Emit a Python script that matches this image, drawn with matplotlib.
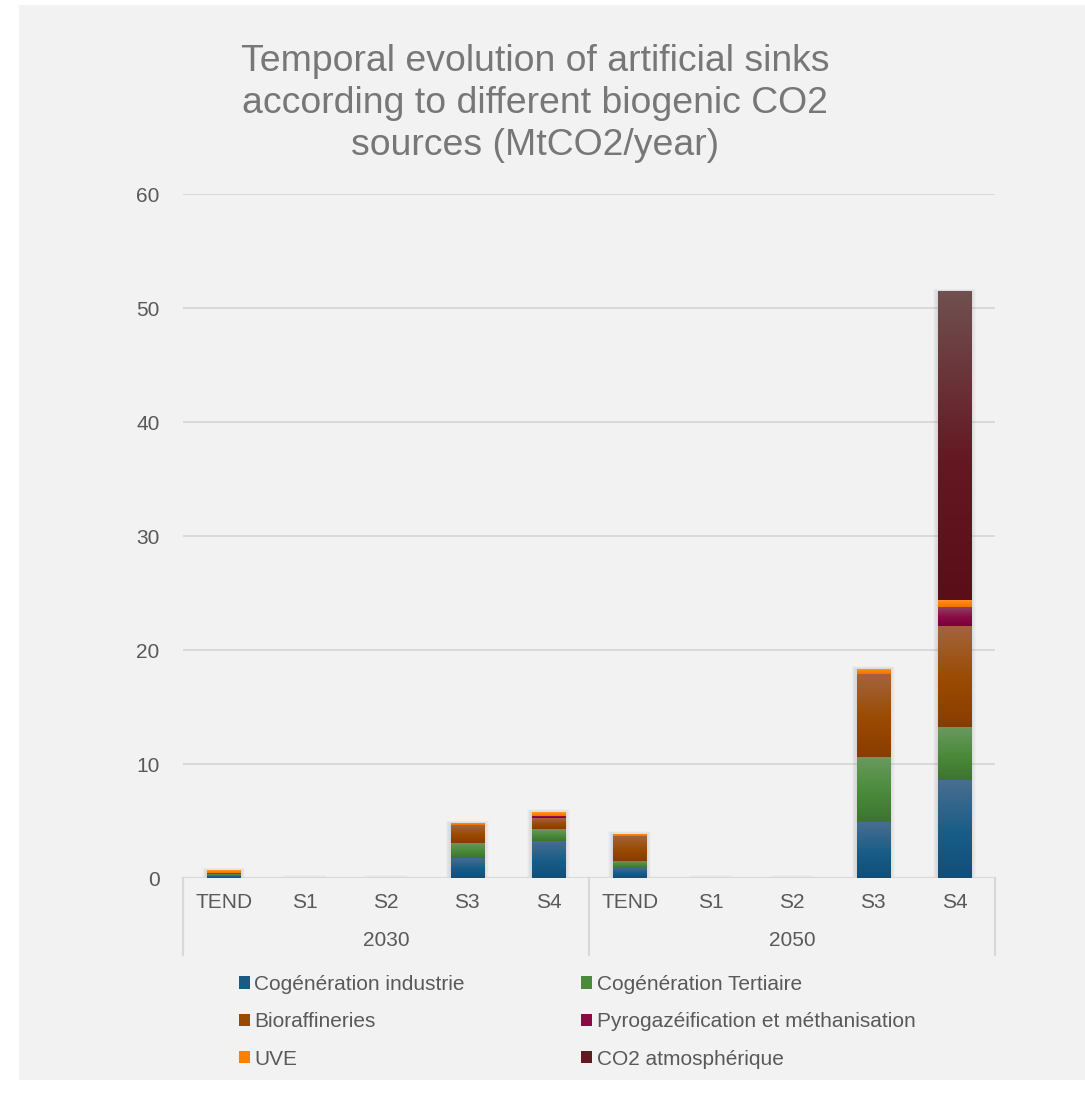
import numpy as np
import matplotlib
matplotlib.use("Agg")
import matplotlib.pyplot as plt
from matplotlib.colors import LinearSegmentedColormap
from matplotlib.patches import Rectangle, Patch
from matplotlib.transforms import blended_transform_factory

plt.rcParams['font.family'] = ['Liberation Sans', 'DejaVu Sans']

# ---- data (MtCO2/year) ----
years = ["2030", "2050"]
scenarios = ["TEND", "S1", "S2", "S3", "S4"]
series_names = ["Cogénération industrie", "Cogénération Tertiaire", "Bioraffineries",
                "Pyrogazéification et méthanisation", "UVE", "CO2 atmosphérique"]
cogen_industrie = [0.18, 0, 0, 1.78, 3.27, 0.88, 0, 0, 4.88, 8.60]
cogen_tertiaire = [0.18, 0, 0, 1.32, 1.05, 0.64, 0, 0, 5.76, 4.65]
bioraffineries = [0.12, 0, 0, 1.52, 0.96, 2.13, 0, 0, 7.28, 8.85]
pyrogazeification = [0.00, 0, 0, 0.00, 0.18, 0.00, 0, 0, 0.00, 1.64]
uve = [0.18, 0, 0, 0.18, 0.35, 0.23, 0, 0, 0.44, 0.64]
co2_atmospherique = [0.00, 0, 0, 0.00, 0.00, 0.00, 0, 0, 0.00, 27.10]

series = [cogen_industrie, cogen_tertiaire, bioraffineries,
          pyrogazeification, uve, co2_atmospherique]

# (bottom, middle, top) shades of each series' vertical gradient
shades = [
    ("#124e78", "#175d88", "#4a6e8f"),
    ("#3d7430", "#4a8a3a", "#6a9a60"),
    ("#883d00", "#9a4a00", "#a3643c"),
    ("#7a003a", "#8a0a44", "#8e4060"),
    ("#f07400", "#ff8000", "#ff9a30"),
    ("#5a0e18", "#641822", "#705050"),
]
legend_colors = ["#1a5a84", "#4a8a3a", "#9a4a00", "#8a0a44", "#ff8000", "#641822"]

W, H = 1085, 1094
fig = plt.figure(figsize=(W / 100, H / 100), dpi=100)
fig.patch.set_facecolor("white")
# light grey chart area
fig.add_artist(Rectangle((19 / W, 1 - 1080 / H), (W - 19) / W, (1080 - 5) / H,
                         transform=fig.transFigure, facecolor="#f2f2f2",
                         edgecolor="none", zorder=0))

ax = fig.add_axes([183 / W, 1 - 878 / H, 812 / W, 684 / H])
ax.set_facecolor("none")

n = len(years) * len(scenarios)
x = np.arange(n)
bar_w = 0.41
ylim = (0, 60)
px_x = 1 / 81.2   # data units per pixel horizontally
px_y = 60 / 684   # data units per pixel vertically

totals = np.sum(np.array(series), axis=0)

# soft drop shadows behind each column
for xi, tot in zip(x, totals):
    for k in range(1, 7):
        ax.add_patch(Rectangle((xi - bar_w / 2 - k * 0.8 * px_x, -k * px_y * 0.6 - px_y),
                               bar_w + 2 * k * 0.8 * px_x, tot + 2 * k * px_y * 0.6,
                               facecolor="#8a8a8a", alpha=0.045, edgecolor="none",
                               zorder=1))

bottom = np.zeros(n)
for vals, (c0, c1, c2) in zip(series, shades):
    vals = np.array(vals, dtype=float)
    cmap = LinearSegmentedColormap.from_list("g", [(0, c0), (0.45, c1), (1, c2)])
    bars = ax.bar(x, vals, bar_w, bottom=bottom, color=c1, edgecolor="none", zorder=2)
    grad = np.linspace(0, 1, 128).reshape(-1, 1)
    for rect, v, b in zip(bars, vals, bottom):
        if v <= 0:
            continue
        im = ax.imshow(grad, cmap=cmap, origin="lower", aspect="auto",
                       extent=(rect.get_x(), rect.get_x() + bar_w, b, b + v),
                       zorder=3, interpolation="bilinear")
        im.set_clip_path(rect)
    bottom += vals

ax.set_xlim(-0.5, n - 0.5)
ax.set_ylim(*ylim)
ax.set_yticks(np.arange(0, 61, 10))
ax.yaxis.grid(True, color="#d9d9d9", linewidth=1.4, zorder=0)
ax.set_axisbelow(True)
for s in ax.spines.values():
    s.set_visible(False)
ax.tick_params(axis="y", length=0, pad=17, labelsize=15, labelcolor="#595959")
ax.set_xticks([])
ax.axhline(0, color="#d9d9d9", linewidth=1.6, zorder=1.5)

# two-level category axis
trans = blended_transform_factory(ax.transData, ax.transAxes)
labels = scenarios * len(years)
for xi, lab in zip(x, labels):
    ax.text(xi, -25 / 684, lab, transform=trans, ha="center", va="center",
            fontsize=15, color="#595959")
for gi, yr in enumerate(years):
    ax.text(gi * len(scenarios) + (len(scenarios) - 1) / 2, -63 / 684, yr,
            transform=trans, ha="center", va="center", fontsize=15, color="#595959")
for xb in [-0.5, 4.5, 9.5]:
    ax.plot([xb, xb], [0, -77 / 684], transform=trans, color="#d9d9d9",
            linewidth=1.6, clip_on=False)

# title
title_lines = ["Temporal evolution of artificial sinks",
               "according to different biogenic CO2",
               "sources (MtCO2/year)"]
for i, line in enumerate(title_lines):
    fig.text(535 / W, 1 - (71 + 42 * i) / H, line, ha="center", va="baseline",
             fontsize=26.9, color="#777777")

# legend, filled row by row (two columns)
handles = [Patch(facecolor=c, edgecolor="none") for c in legend_colors]
order = [0, 2, 4, 1, 3, 5]
fig.legend([handles[i] for i in order], [series_names[i] for i in order],
           ncol=2, loc="upper left", bbox_to_anchor=(239 / W, 1 - 975 / H),
           frameon=False, fontsize=15, labelcolor="#595959",
           handlelength=0.53, handleheight=0.53, handletextpad=0.2,
           columnspacing=5.6, labelspacing=0.88, borderpad=0, borderaxespad=0)

fig.savefig("out.png", dpi=100, facecolor="white")
